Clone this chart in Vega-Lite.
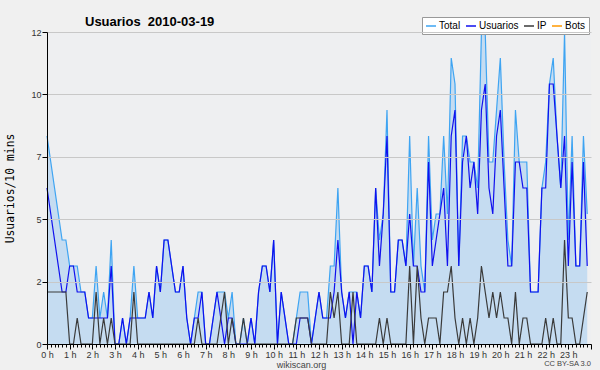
{
"$schema":"https://vega.github.io/schema/vega-lite/v6.json",
"width":544,"height":312,
"autosize":{"type":"none"},
"padding":{"left":47,"top":32,"right":9,"bottom":26},
"background":"#f0f0f0",
"config":{"view":{"fill":"#eeeff1","stroke":null},"font":"Liberation Sans","axis":{"labelOverlap":false,"labelFlush":false}},
"title":{"text":"Usuarios\u00a0 2010-03-19","anchor":"start","frame":"group","dx":38,"dy":16,"font":"Liberation Sans","fontSize":13,"fontWeight":"bold","color":"#000000"},
"data":{"values":[
{"i":0,"Usuarios":6,"IP":2,"Total":8},{"i":1,"Usuarios":5,"IP":2,"Total":7},{"i":2,"Usuarios":4,"IP":2,"Total":6},{"i":3,"Usuarios":3,"IP":2,"Total":5},{"i":4,"Usuarios":2,"IP":2,"Total":4},{"i":5,"Usuarios":2,"IP":2,"Total":4},{"i":6,"Usuarios":3,"IP":0,"Total":3},{"i":7,"Usuarios":3,"IP":0,"Total":3},{"i":8,"Usuarios":2,"IP":1,"Total":3},{"i":9,"Usuarios":2,"IP":0,"Total":2},
{"i":10,"Usuarios":2,"IP":0,"Total":2},{"i":11,"Usuarios":1,"IP":0,"Total":1},{"i":12,"Usuarios":1,"IP":0,"Total":1},{"i":13,"Usuarios":1,"IP":2,"Total":3},{"i":14,"Usuarios":1,"IP":0,"Total":1},{"i":15,"Usuarios":1,"IP":1,"Total":2},{"i":16,"Usuarios":1,"IP":0,"Total":1},{"i":17,"Usuarios":3,"IP":1,"Total":4},{"i":18,"Usuarios":0,"IP":0,"Total":0},{"i":19,"Usuarios":0,"IP":0,"Total":0},
{"i":20,"Usuarios":1,"IP":0,"Total":1},{"i":21,"Usuarios":0,"IP":0,"Total":0},{"i":22,"Usuarios":1,"IP":0,"Total":1},{"i":23,"Usuarios":1,"IP":2,"Total":3},{"i":24,"Usuarios":1,"IP":0,"Total":1},{"i":25,"Usuarios":1,"IP":0,"Total":1},{"i":26,"Usuarios":1,"IP":0,"Total":1},{"i":27,"Usuarios":2,"IP":0,"Total":2},{"i":28,"Usuarios":1,"IP":0,"Total":1},{"i":29,"Usuarios":3,"IP":0,"Total":3},
{"i":30,"Usuarios":2,"IP":0,"Total":2},{"i":31,"Usuarios":4,"IP":0,"Total":4},{"i":32,"Usuarios":4,"IP":0,"Total":4},{"i":33,"Usuarios":3,"IP":0,"Total":3},{"i":34,"Usuarios":2,"IP":0,"Total":2},{"i":35,"Usuarios":2,"IP":0,"Total":2},{"i":36,"Usuarios":3,"IP":0,"Total":3},{"i":37,"Usuarios":1,"IP":0,"Total":1},{"i":38,"Usuarios":0,"IP":0,"Total":0},{"i":39,"Usuarios":1,"IP":0,"Total":1},
{"i":40,"Usuarios":1,"IP":1,"Total":2},{"i":41,"Usuarios":2,"IP":0,"Total":2},{"i":42,"Usuarios":0,"IP":0,"Total":0},{"i":43,"Usuarios":0,"IP":0,"Total":0},{"i":44,"Usuarios":1,"IP":0,"Total":1},{"i":45,"Usuarios":2,"IP":0,"Total":2},{"i":46,"Usuarios":1,"IP":1,"Total":2},{"i":47,"Usuarios":0,"IP":2,"Total":2},{"i":48,"Usuarios":1,"IP":0,"Total":1},{"i":49,"Usuarios":1,"IP":1,"Total":2},
{"i":50,"Usuarios":0,"IP":0,"Total":0},{"i":51,"Usuarios":0,"IP":0,"Total":0},{"i":52,"Usuarios":0,"IP":1,"Total":1},{"i":53,"Usuarios":0,"IP":0,"Total":0},{"i":54,"Usuarios":1,"IP":0,"Total":1},{"i":55,"Usuarios":0,"IP":0,"Total":0},{"i":56,"Usuarios":2,"IP":0,"Total":2},{"i":57,"Usuarios":3,"IP":0,"Total":3},{"i":58,"Usuarios":3,"IP":0,"Total":3},{"i":59,"Usuarios":2,"IP":0,"Total":2},
{"i":60,"Usuarios":4,"IP":0,"Total":4},{"i":61,"Usuarios":0,"IP":0,"Total":0},{"i":62,"Usuarios":2,"IP":0,"Total":2},{"i":63,"Usuarios":1,"IP":0,"Total":1},{"i":64,"Usuarios":0,"IP":0,"Total":0},{"i":65,"Usuarios":0,"IP":0,"Total":0},{"i":66,"Usuarios":0,"IP":1,"Total":1},{"i":67,"Usuarios":1,"IP":1,"Total":2},{"i":68,"Usuarios":1,"IP":1,"Total":2},{"i":69,"Usuarios":1,"IP":1,"Total":2},
{"i":70,"Usuarios":0,"IP":0,"Total":0},{"i":71,"Usuarios":1,"IP":0,"Total":1},{"i":72,"Usuarios":2,"IP":0,"Total":2},{"i":73,"Usuarios":1,"IP":0,"Total":1},{"i":74,"Usuarios":1,"IP":0,"Total":1},{"i":75,"Usuarios":1,"IP":2,"Total":3},{"i":76,"Usuarios":2,"IP":1,"Total":3},{"i":77,"Usuarios":4,"IP":2,"Total":6},{"i":78,"Usuarios":2,"IP":0,"Total":2},{"i":79,"Usuarios":1,"IP":0,"Total":1},
{"i":80,"Usuarios":2,"IP":0,"Total":2},{"i":81,"Usuarios":0,"IP":2,"Total":2},{"i":82,"Usuarios":2,"IP":0,"Total":2},{"i":83,"Usuarios":1,"IP":0,"Total":1},{"i":84,"Usuarios":3,"IP":0,"Total":3},{"i":85,"Usuarios":3,"IP":0,"Total":3},{"i":86,"Usuarios":2,"IP":0,"Total":2},{"i":87,"Usuarios":6,"IP":0,"Total":6},{"i":88,"Usuarios":3,"IP":1,"Total":4},{"i":89,"Usuarios":5,"IP":0,"Total":5},
{"i":90,"Usuarios":8,"IP":1,"Total":9},{"i":91,"Usuarios":2,"IP":0,"Total":2},{"i":92,"Usuarios":2,"IP":0,"Total":2},{"i":93,"Usuarios":4,"IP":0,"Total":4},{"i":94,"Usuarios":4,"IP":0,"Total":4},{"i":95,"Usuarios":3,"IP":0,"Total":3},{"i":96,"Usuarios":5,"IP":3,"Total":8},{"i":97,"Usuarios":3,"IP":0,"Total":3},{"i":98,"Usuarios":3,"IP":3,"Total":6},{"i":99,"Usuarios":2,"IP":1,"Total":3},
{"i":100,"Usuarios":2,"IP":0,"Total":2},{"i":101,"Usuarios":7,"IP":1,"Total":8},{"i":102,"Usuarios":3,"IP":1,"Total":4},{"i":103,"Usuarios":4,"IP":1,"Total":5},{"i":104,"Usuarios":5,"IP":0,"Total":5},{"i":105,"Usuarios":6,"IP":2,"Total":8},{"i":106,"Usuarios":3,"IP":2,"Total":5},{"i":107,"Usuarios":8,"IP":3,"Total":11},{"i":108,"Usuarios":9,"IP":1,"Total":10},{"i":109,"Usuarios":3,"IP":0,"Total":3},
{"i":110,"Usuarios":7,"IP":1,"Total":8},{"i":111,"Usuarios":8,"IP":0,"Total":8},{"i":112,"Usuarios":6,"IP":1,"Total":7},{"i":113,"Usuarios":7,"IP":0,"Total":7},{"i":114,"Usuarios":5,"IP":1,"Total":6},{"i":115,"Usuarios":9,"IP":3,"Total":12},{"i":116,"Usuarios":10,"IP":2,"Total":12},{"i":117,"Usuarios":6,"IP":1,"Total":7},{"i":118,"Usuarios":5,"IP":2,"Total":7},{"i":119,"Usuarios":8,"IP":1,"Total":9},
{"i":120,"Usuarios":9,"IP":2,"Total":11},{"i":121,"Usuarios":6,"IP":1,"Total":7},{"i":122,"Usuarios":3,"IP":1,"Total":4},{"i":123,"Usuarios":3,"IP":0,"Total":3},{"i":124,"Usuarios":7,"IP":2,"Total":9},{"i":125,"Usuarios":7,"IP":0,"Total":7},{"i":126,"Usuarios":6,"IP":1,"Total":7},{"i":127,"Usuarios":6,"IP":1,"Total":7},{"i":128,"Usuarios":2,"IP":0,"Total":2},{"i":129,"Usuarios":2,"IP":0,"Total":2},
{"i":130,"Usuarios":2,"IP":0,"Total":2},{"i":131,"Usuarios":6,"IP":0,"Total":6},{"i":132,"Usuarios":6,"IP":1,"Total":7},{"i":133,"Usuarios":10,"IP":0,"Total":10},{"i":134,"Usuarios":10,"IP":1,"Total":11},{"i":135,"Usuarios":8,"IP":0,"Total":8},{"i":136,"Usuarios":6,"IP":0,"Total":6},{"i":137,"Usuarios":8,"IP":4,"Total":12},{"i":138,"Usuarios":3,"IP":1,"Total":4},{"i":139,"Usuarios":7,"IP":1,"Total":8},
{"i":140,"Usuarios":3,"IP":0,"Total":3},{"i":141,"Usuarios":3,"IP":0,"Total":3},{"i":142,"Usuarios":7,"IP":1,"Total":8},{"i":143,"Usuarios":3,"IP":2,"Total":5}
]},
"layer":[
{"mark":{"type":"area","color":"#c5dcf1","opacity":1},
 "encoding":{
 "x":{"field":"i","type":"quantitative","scale":{"domain":[0,144],"nice":false,"zero":false},
 "axis":{"values":[0,1,2,3,4,5,6,7,8,9,10,11,12,13,14,15,16,17,18,19,20,21,22,23,24,25,26,27,28,29,30,31,32,33,34,35,36,37,38,39,40,41,42,43,44,45,46,47,48,49,50,51,52,53,54,55,56,57,58,59,60,61,62,63,64,65,66,67,68,69,70,71,72,73,74,75,76,77,78,79,80,81,82,83,84,85,86,87,88,89,90,91,92,93,94,95,96,97,98,99,100,101,102,103,104,105,106,107,108,109,110,111,112,113,114,115,116,117,118,119,120,121,122,123,124,125,126,127,128,129,130,131,132,133,134,135,136,137,138,139,140,141,142,143,144],
 "labelExpr":"(datum.value % 6 === 0 && datum.value < 144) ? (datum.value/6) + ' h' : ''",
 "labelOverlap":false,"labelFlush":false,"labelBound":false,"grid":false,
 "tickSize":{"condition":{"test":"datum.value % 6 === 0","value":5},"value":3},
 "tickColor":"#000000","domainColor":"#000000","labelFont":"Liberation Sans","labelFontSize":9,"labelColor":"#333333","labelPadding":1,
 "title":"wikiscan.org","titleFont":"Liberation Sans","titleFontSize":9,"titleFontWeight":"normal","titleColor":"#444444","titleX":254,"titlePadding":1,"zindex":1}},
 "y":{"field":"Total","type":"quantitative","scale":{"domain":[0,12],"nice":false,"zero":true},
 "axis":{"values":[0,0.6,1.2,1.8,2.4,3,3.6,4.2,4.8,5.4,6,6.6,7.2,7.8,8.4,9,9.6,10.2,10.8,11.4,12],
 "labelExpr":"abs(datum.value/2.4-round(datum.value/2.4))<0.01 ? format(round(datum.value),'d') : ''",
 "labelOverlap":false,"labelBound":false,"grid":true,"gridColor":"#c8c8c8",
 "gridOpacity":{"condition":{"test":"abs(datum.value/2.4-round(datum.value/2.4))<0.01","value":1},"value":0},
 "tickSize":{"condition":{"test":"abs(datum.value/2.4-round(datum.value/2.4))<0.01","value":5},"value":3},
 "tickColor":"#000000","domainColor":"#000000","labelFont":"Liberation Sans","labelFontSize":9,"labelColor":"#333333","labelPadding":1,
 "title":"Usuarios/10 mins","titleFont":"DejaVu Sans Mono","titleFontSize":11.4,"titleFontWeight":"normal","titleColor":"#000000","titlePadding":15,"zindex":1}}}},
{"mark":{"type":"line","strokeWidth":1.2},
 "encoding":{
 "x":{"field":"i","type":"quantitative",
 "axis":{"values":[0,1,2,3,4,5,6,7,8,9,10,11,12,13,14,15,16,17,18,19,20,21,22,23,24,25,26,27,28,29,30,31,32,33,34,35,36,37,38,39,40,41,42,43,44,45,46,47,48,49,50,51,52,53,54,55,56,57,58,59,60,61,62,63,64,65,66,67,68,69,70,71,72,73,74,75,76,77,78,79,80,81,82,83,84,85,86,87,88,89,90,91,92,93,94,95,96,97,98,99,100,101,102,103,104,105,106,107,108,109,110,111,112,113,114,115,116,117,118,119,120,121,122,123,124,125,126,127,128,129,130,131,132,133,134,135,136,137,138,139,140,141,142,143,144],
 "labelExpr":"(datum.value % 6 === 0 && datum.value < 144) ? (datum.value/6) + ' h' : ''",
 "labelOverlap":false,"labelFlush":false,"labelBound":false,"grid":false,
 "tickSize":{"condition":{"test":"datum.value % 6 === 0","value":5},"value":3},
 "tickColor":"#000000","domainColor":"#000000","labelFont":"Liberation Sans","labelFontSize":9,"labelColor":"#333333","labelPadding":1,
 "title":"wikiscan.org","titleFont":"Liberation Sans","titleFontSize":9,"titleFontWeight":"normal","titleColor":"#444444","titleX":254,"titlePadding":1,"zindex":1}},
 "y":{"field":"Total","type":"quantitative"},
 "color":{"datum":"Total","type":"nominal","scale":{"domain":["Total","Usuarios","IP","Bots"],"range":["#3ea4f2","#1010ee","#3a3a3a","#ff9900"]},
 "legend":{"orient":"none","legendX":375,"legendY":-15,"direction":"horizontal","title":null,"symbolType":"stroke","symbolSize":100,"symbolStrokeWidth":1.5,"labelFont":"Liberation Sans","labelFontSize":10,"labelColor":"#000000","labelOffset":2,"columnPadding":2,"padding":3,"fillColor":"#ffffff","strokeColor":"#999999"}}}},
{"mark":{"type":"line","strokeWidth":1.2},
 "encoding":{
 "x":{"field":"i","type":"quantitative",
 "axis":{"values":[0,1,2,3,4,5,6,7,8,9,10,11,12,13,14,15,16,17,18,19,20,21,22,23,24,25,26,27,28,29,30,31,32,33,34,35,36,37,38,39,40,41,42,43,44,45,46,47,48,49,50,51,52,53,54,55,56,57,58,59,60,61,62,63,64,65,66,67,68,69,70,71,72,73,74,75,76,77,78,79,80,81,82,83,84,85,86,87,88,89,90,91,92,93,94,95,96,97,98,99,100,101,102,103,104,105,106,107,108,109,110,111,112,113,114,115,116,117,118,119,120,121,122,123,124,125,126,127,128,129,130,131,132,133,134,135,136,137,138,139,140,141,142,143,144],
 "labelExpr":"(datum.value % 6 === 0 && datum.value < 144) ? (datum.value/6) + ' h' : ''",
 "labelOverlap":false,"labelFlush":false,"labelBound":false,"grid":false,
 "tickSize":{"condition":{"test":"datum.value % 6 === 0","value":5},"value":3},
 "tickColor":"#000000","domainColor":"#000000","labelFont":"Liberation Sans","labelFontSize":9,"labelColor":"#333333","labelPadding":1,
 "title":"wikiscan.org","titleFont":"Liberation Sans","titleFontSize":9,"titleFontWeight":"normal","titleColor":"#444444","titleX":254,"titlePadding":1,"zindex":1}},
 "y":{"field":"Usuarios","type":"quantitative"},"color":{"datum":"Usuarios","type":"nominal"}}},
{"mark":{"type":"line","strokeWidth":1.2},
 "encoding":{
 "x":{"field":"i","type":"quantitative",
 "axis":{"values":[0,1,2,3,4,5,6,7,8,9,10,11,12,13,14,15,16,17,18,19,20,21,22,23,24,25,26,27,28,29,30,31,32,33,34,35,36,37,38,39,40,41,42,43,44,45,46,47,48,49,50,51,52,53,54,55,56,57,58,59,60,61,62,63,64,65,66,67,68,69,70,71,72,73,74,75,76,77,78,79,80,81,82,83,84,85,86,87,88,89,90,91,92,93,94,95,96,97,98,99,100,101,102,103,104,105,106,107,108,109,110,111,112,113,114,115,116,117,118,119,120,121,122,123,124,125,126,127,128,129,130,131,132,133,134,135,136,137,138,139,140,141,142,143,144],
 "labelExpr":"(datum.value % 6 === 0 && datum.value < 144) ? (datum.value/6) + ' h' : ''",
 "labelOverlap":false,"labelFlush":false,"labelBound":false,"grid":false,
 "tickSize":{"condition":{"test":"datum.value % 6 === 0","value":5},"value":3},
 "tickColor":"#000000","domainColor":"#000000","labelFont":"Liberation Sans","labelFontSize":9,"labelColor":"#333333","labelPadding":1,
 "title":"wikiscan.org","titleFont":"Liberation Sans","titleFontSize":9,"titleFontWeight":"normal","titleColor":"#444444","titleX":254,"titlePadding":1,"zindex":1}},
 "y":{"field":"IP","type":"quantitative"},"color":{"datum":"IP","type":"nominal"}}},
{"data":{"values":[{"t":"CC BY-SA 3.0"}]},
 "mark":{"type":"text","align":"right","baseline":"alphabetic","dy":22,"fontSize":7.5,"fill":"#444444","font":"Liberation Sans"},
 "encoding":{
 "x":{"datum":144,"type":"quantitative",
 "axis":{"values":[0,1,2,3,4,5,6,7,8,9,10,11,12,13,14,15,16,17,18,19,20,21,22,23,24,25,26,27,28,29,30,31,32,33,34,35,36,37,38,39,40,41,42,43,44,45,46,47,48,49,50,51,52,53,54,55,56,57,58,59,60,61,62,63,64,65,66,67,68,69,70,71,72,73,74,75,76,77,78,79,80,81,82,83,84,85,86,87,88,89,90,91,92,93,94,95,96,97,98,99,100,101,102,103,104,105,106,107,108,109,110,111,112,113,114,115,116,117,118,119,120,121,122,123,124,125,126,127,128,129,130,131,132,133,134,135,136,137,138,139,140,141,142,143,144],
 "labelExpr":"(datum.value % 6 === 0 && datum.value < 144) ? (datum.value/6) + ' h' : ''",
 "labelOverlap":false,"labelFlush":false,"labelBound":false,"grid":false,
 "tickSize":{"condition":{"test":"datum.value % 6 === 0","value":5},"value":3},
 "tickColor":"#000000","domainColor":"#000000","labelFont":"Liberation Sans","labelFontSize":9,"labelColor":"#333333","labelPadding":1,
 "title":"wikiscan.org","titleFont":"Liberation Sans","titleFontSize":9,"titleFontWeight":"normal","titleColor":"#444444","titleX":254,"titlePadding":1,"zindex":1}},
 "y":{"datum":0,"type":"quantitative",
 "axis":{"values":[0,0.6,1.2,1.8,2.4,3,3.6,4.2,4.8,5.4,6,6.6,7.2,7.8,8.4,9,9.6,10.2,10.8,11.4,12],
 "labelExpr":"abs(datum.value/2.4-round(datum.value/2.4))<0.01 ? format(round(datum.value),'d') : ''",
 "labelOverlap":false,"labelBound":false,"grid":true,"gridColor":"#c8c8c8",
 "gridOpacity":{"condition":{"test":"abs(datum.value/2.4-round(datum.value/2.4))<0.01","value":1},"value":0},
 "tickSize":{"condition":{"test":"abs(datum.value/2.4-round(datum.value/2.4))<0.01","value":5},"value":3},
 "tickColor":"#000000","domainColor":"#000000","labelFont":"Liberation Sans","labelFontSize":9,"labelColor":"#333333","labelPadding":1,
 "title":"Usuarios/10 mins","titleFont":"DejaVu Sans Mono","titleFontSize":11.4,"titleFontWeight":"normal","titleColor":"#000000","titlePadding":15,"zindex":1}},
 "text":{"field":"t","type":"nominal"}}}
]
}
